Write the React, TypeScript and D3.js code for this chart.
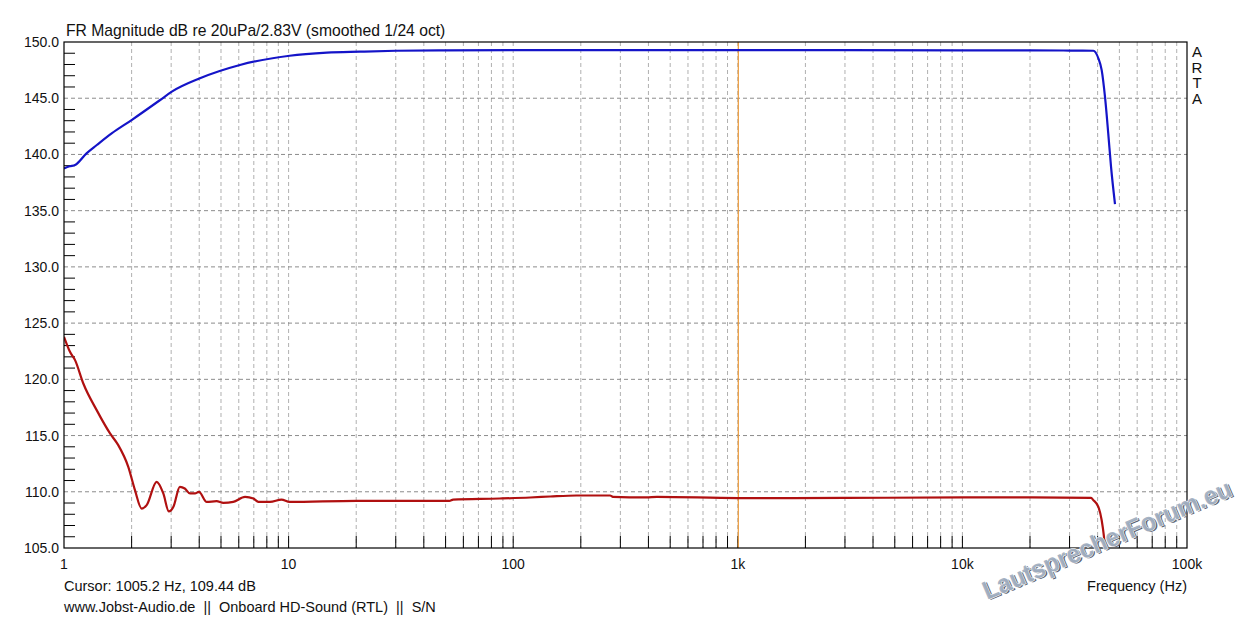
import * as d3 from 'd3';

// blue curve (measured response)
const blueFreq = [1, 1.06, 1.12, 1.26, 1.4, 1.63, 2.0, 2.68, 3.02, 4.03, 6.07, 10.1, 14.8, 20.8, 30, 50, 100, 300, 1000, 3000, 10000, 20000, 30000, 38300, 40300, 41700, 43200, 44600, 45900, 47800];
const blueDb = [138.76, 138.95, 139.06, 140.1, 140.84, 141.87, 143.06, 144.84, 145.58, 146.77, 147.95, 148.78, 149.05, 149.14, 149.22, 149.26, 149.28, 149.28, 149.28, 149.28, 149.26, 149.25, 149.24, 149.22, 148.55, 147.5, 145.0, 141.88, 138.9, 135.59];

// red curve (noise floor)
const redFreq = [1, 1.063, 1.12, 1.219, 1.398, 1.603, 1.744, 1.933, 2.07, 2.218, 2.334, 2.585, 2.768, 2.93, 3.07, 3.28, 3.45, 3.64, 3.83, 3.99, 4.32, 4.78, 5.12, 5.67, 6.4, 6.97, 7.34, 8.26, 9.3, 10.1, 20, 52, 54, 87, 119, 146, 191, 270, 278, 391, 437, 1000, 3000, 10000, 20000, 37400, 38300, 40300, 41700, 42700, 43200, 43800];
const redDb = [123.78, 122.45, 121.71, 119.63, 117.26, 115.19, 114.15, 112.22, 110.14, 108.51, 108.81, 110.88, 109.85, 108.25, 108.66, 110.44, 110.29, 109.85, 109.85, 109.99, 109.1, 109.16, 109.01, 109.1, 109.55, 109.4, 109.1, 109.1, 109.31, 109.1, 109.19, 109.19, 109.31, 109.4, 109.49, 109.58, 109.67, 109.67, 109.55, 109.5, 109.55, 109.44, 109.45, 109.5, 109.5, 109.45, 109.25, 108.66, 107.47, 105.99, 105.0, 104.0];

const yMajor = [150, 145, 140, 135, 130, 125, 120, 115, 110, 105];
const xDecades = [1, 10, 100, 1000, 10000, 100000];
const xLabels = ['1', '10', '100', '1k', '10k', '100k'];
const cursorFreq = 1005.2;
const artaLetters = ['A', 'R', 'T', 'A'];

const W = 1251;
const H = 619;
const L = 64;
const R = 1187;
const T = 42;
const B = 548;
const FONT = '"Liberation Sans", Arial, sans-serif';

const App = () => {
  const x = d3.scaleLog().domain([1, 100000]).range([L, R]);
  const y = d3.scaleLinear().domain([105, 150]).range([B, T]);

  const line = d3
    .line<[number, number]>()
    .x((d) => x(d[0]))
    .y((d) => y(d[1]))
    .curve(d3.curveMonotoneX);

  const bluePath = line(blueFreq.map((f, i) => [f, blueDb[i]] as [number, number])) || '';
  const redPath = line(redFreq.map((f, i) => [f, redDb[i]] as [number, number])) || '';

  // minor frequency positions 2..9 in each decade
  const minors: number[] = [];
  xDecades.slice(0, -1).forEach((d) => {
    for (let k = 2; k <= 9; k++) minors.push(d * k);
  });
  const yMinor = d3.range(106, 150).filter((v) => v % 5 !== 0);

  return (
    <svg width={W} height={H} style={{ position: 'absolute', left: 0, top: 0, background: '#fff' }} fontFamily={FONT}>
      <defs>
        <clipPath id='plotClip'>
          <rect x={L} y={T} width={R - L} height={B - T} />
        </clipPath>
      </defs>

      {/* grid */}
      {[...minors, ...xDecades.slice(1, -1)].map((f) => (
        <line key={'gx' + f} x1={x(f)} x2={x(f)} y1={T} y2={B} stroke='#b0b0b0' strokeDasharray='4,3' />
      ))}
      {yMajor.slice(1, -1).map((v) => (
        <line key={'gy' + v} x1={L} x2={R} y1={y(v)} y2={y(v)} stroke='#8c8c8c' strokeDasharray='4,3' />
      ))}

      {/* ticks */}
      {[...minors, ...xDecades.slice(1, -1)].map((f) => (
        <line key={'tx' + f} x1={x(f)} x2={x(f)} y1={B} y2={B - 12} stroke='#000' />
      ))}
      {yMinor.map((v) => (
        <line key={'ty' + v} x1={L} x2={L + 11} y1={y(v)} y2={y(v)} stroke='#000' />
      ))}

      {/* cursor */}
      <line x1={x(cursorFreq)} x2={x(cursorFreq)} y1={T} y2={B} stroke='#ec9a3a' strokeWidth={1.2} />

      {/* curves */}
      <g clipPath='url(#plotClip)'>
        <path d={bluePath} fill='none' stroke='#1414c8' strokeWidth={2.2} />
        <path d={redPath} fill='none' stroke='#b01010' strokeWidth={2.2} />
      </g>

      <rect x={L} y={T} width={R - L} height={B - T} fill='none' stroke='#000' strokeWidth={1.2} />

      {/* axis labels */}
      {yMajor.map((v) => (
        <text key={'ly' + v} x={59} y={y(v) + 5} textAnchor='end' fontSize={14} fill='#111'>
          {v.toFixed(1)}
        </text>
      ))}
      {xDecades.map((f, i) => (
        <text key={'lx' + f} x={x(f)} y={569} textAnchor='middle' fontSize={14} fill='#111'>
          {xLabels[i]}
        </text>
      ))}

      <text x={66} y={36} fontSize={15.7} fill='#111'>
        FR Magnitude dB re 20uPa/2.83V (smoothed 1/24 oct)
      </text>
      {artaLetters.map((c, i) => (
        <text key={'a' + i} x={1197} y={57 + i * 15.6} textAnchor='middle' fontSize={15} fill='#111'>
          {c}
        </text>
      ))}

      <text x={64} y={591} fontSize={14.5} fill='#111'>
        Cursor: 1005.2 Hz, 109.44 dB
      </text>
      <text x={64} y={612} fontSize={14.5} fill='#111' style={{ whiteSpace: 'pre' }}>
        {'www.Jobst-Audio.de  ||  Onboard HD-Sound (RTL)  ||  S/N'}
      </text>
      <text x={1187} y={591} textAnchor='end' fontSize={14.5} fill='#111'>
        Frequency (Hz)
      </text>

      {/* watermark */}
      <g transform='translate(987,600) rotate(-23)'>
        <text x={1.5} y={1.5} fontSize={26} fontWeight='bold' fill='#5a6070' textLength={268} lengthAdjust='spacingAndGlyphs'>
          LautsprecherForum.eu
        </text>
        <text x={0} y={0} fontSize={26} fontWeight='bold' fill='#a2b0c2' stroke='#ffffff' strokeWidth={1.2} paintOrder='stroke' textLength={268} lengthAdjust='spacingAndGlyphs' opacity={0.95}>
          LautsprecherForum.eu
        </text>
      </g>
    </svg>
  );
};

export default App;
